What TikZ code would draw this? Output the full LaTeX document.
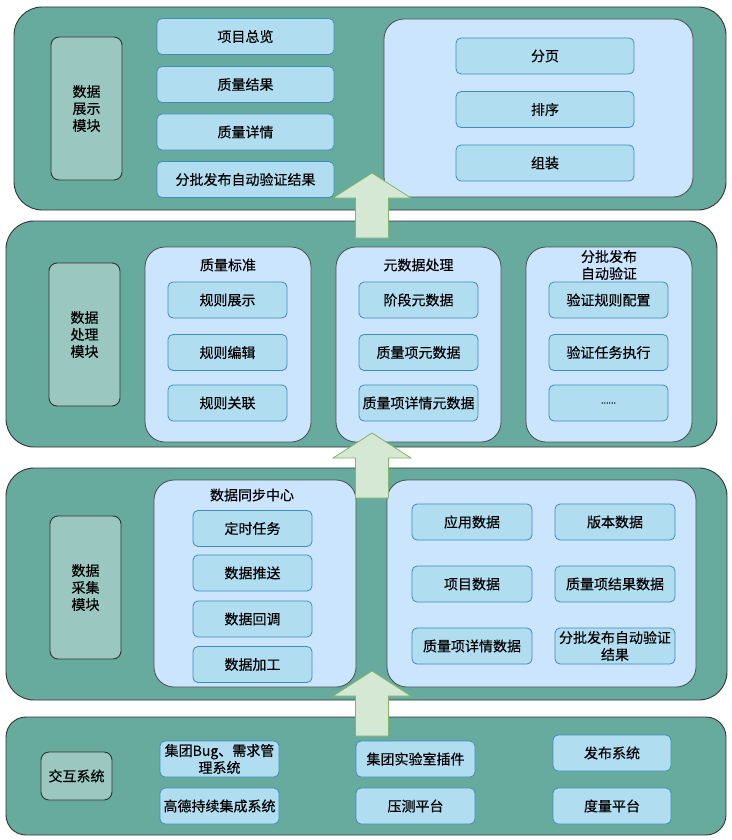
\documentclass[tikz,border=0pt]{standalone}
\usepackage{fontspec}
\setmainfont[FakeBold=0.3]{Noto Sans CJK SC}
\usepackage{xcolor}
\usepackage{tikz}

\definecolor{layerfill}{HTML}{67AB9F}
\definecolor{modfill}{HTML}{9AC7BF}
\definecolor{panelfill}{HTML}{CCE5FF}
\definecolor{itemfill}{HTML}{B1DDF0}
\definecolor{itemline}{HTML}{3C8DBC}
\definecolor{arrowfill}{HTML}{D5E8D4}
\definecolor{arrowline}{HTML}{82B366}

\tikzset{
  txt/.style={font=\fontsize{14}{17}\selectfont, align=center, inner sep=0pt},
  layer/.style={draw=black!80, fill=layerfill, line width=0.9pt, rounded corners=28pt, inner sep=0pt},
  modbox/.style={txt, draw=black!80, fill=modfill, line width=0.9pt, rounded corners=8pt, minimum width=71pt},
  panel/.style={draw=black!70, fill=panelfill, line width=0.8pt, rounded corners=20pt, inner sep=0pt},
  item/.style={txt, draw=itemline, fill=itemfill, line width=0.8pt, rounded corners=5pt, minimum height=36pt},
  bigarrow/.style={draw=arrowline, fill=arrowfill, line width=0.8pt, line join=miter}
}

\begin{document}
\begin{tikzpicture}[x=1pt,y=-1pt]
\useasboundingbox (0,0) rectangle (731,840);

%% layers (bottom to top on the page)
\node[layer, minimum width=712pt, minimum height=203pt] (lay1) at (370,108.5) {};
\node[layer, minimum width=711pt, minimum height=226pt] (lay2) at (361.5,334) {};
\node[layer, minimum width=721pt, minimum height=232pt] (lay3) at (366.5,584) {};
\node[layer, minimum width=720pt, minimum height=118pt, rounded corners=20pt] (lay4) at (366,776) {};

%%%%%%%% 数据展示 %%%%%%%%
\node[modbox, minimum height=143pt] (mod1) at (86.5,108.5) {数据\\展示\\模块};
\node[item, minimum width=177pt] (show1) at (245.5,36.5) {项目总览};
\node[item, minimum width=177pt] (show2) at (245.5,84.5) {质量结果};
\node[item, minimum width=177pt] (show3) at (245.5,132) {质量详情};
\node[item, minimum width=177pt] (show4) at (245.5,179.5) {分批发布自动验证结果};
\node[panel, minimum width=309pt, minimum height=178pt] (pshow) at (538.5,108) {};
\node[item, minimum width=178pt] (page) at (545,56) {分页};
\node[item, minimum width=178pt] (sort) at (545,109.5) {排序};
\node[item, minimum width=178pt] (pack) at (545,163) {组装};

%%%%%%%% 数据处理 %%%%%%%%
\node[modbox, minimum height=143pt] (mod2) at (84.5,334.5) {数据\\处理\\模块};
\node[panel, minimum width=166pt, minimum height=195pt] (pstd) at (228,344.5) {};
\node[panel, minimum width=165pt, minimum height=195pt] (pmeta) at (418.5,344.5) {};
\node[panel, minimum width=166pt, minimum height=195pt] (pauto) at (609,344.5) {};
\node[txt] (tstd) at (228,265) {质量标准};
\node[txt] (tmeta) at (418.5,265) {元数据处理};
\node[txt] (tauto) at (609,265) {分批发布\\自动验证};
\node[item, minimum width=119pt] (rule1) at (227.5,300) {规则展示};
\node[item, minimum width=119pt] (rule2) at (227.5,352.5) {规则编辑};
\node[item, minimum width=119pt] (rule3) at (227.5,403) {规则关联};
\node[item, minimum width=119pt] (meta1) at (418.5,300) {阶段元数据};
\node[item, minimum width=119pt] (meta2) at (418.5,352.5) {质量项元数据};
\node[item, minimum width=119pt] (meta3) at (418.5,403) {质量项详情元数据};
\node[item, minimum width=119pt] (auto1) at (608.5,300) {验证规则配置};
\node[item, minimum width=119pt] (auto2) at (608.5,352.5) {验证任务执行};
\node[item, minimum width=119pt] (auto3) at (608.5,403) {\fontsize{9}{10}\selectfont ......};

%%%%%%%% 数据采集 %%%%%%%%
\node[modbox, minimum height=143pt] (mod3) at (85.5,587.5) {数据\\采集\\模块};
\node[panel, minimum width=202pt, minimum height=207pt] (psync) at (255,583.5) {};
\node[txt] (tsync) at (252,495) {数据同步中心};
\node[item, minimum width=119pt] (sync1) at (252.5,528.5) {定时任务};
\node[item, minimum width=119pt] (sync2) at (252.5,573) {数据推送};
\node[item, minimum width=119pt] (sync3) at (252.5,619) {数据回调};
\node[item, minimum width=119pt] (sync4) at (252.5,664.5) {数据加工};
\node[panel, minimum width=309pt, minimum height=207pt] (pdata) at (541.5,583.5) {};
\node[item, minimum width=120pt] (data1) at (472,522) {应用数据};
\node[item, minimum width=120pt] (data2) at (615,522) {版本数据};
\node[item, minimum width=120pt] (data3) at (472,584) {项目数据};
\node[item, minimum width=120pt] (data4) at (615,584) {质量项结果数据};
\node[item, minimum width=120pt] (data5) at (472,646) {质量项详情数据};
\node[item, minimum width=120pt] (data6) at (615,646) {分批发布自动验证\\结果};

%%%%%%%% 交互系统 %%%%%%%%
\node[modbox, minimum height=48pt] (mod4) at (76.5,776) {交互系统};
\node[item, minimum width=119pt] (sys1) at (219.5,759) {集团Bug、需求管\\理系统};
\node[item, minimum width=119pt] (sys2) at (219.5,806) {高德持续集成系统};
\node[item, minimum width=119pt] (sys3) at (415.5,759) {集团实验室插件};
\node[item, minimum width=119pt] (sys4) at (415.5,806) {压测平台};
\node[item, minimum width=118pt] (sys5) at (612,753) {发布系统};
\node[item, minimum width=118pt] (sys6) at (612,806) {度量平台};

%% fat arrows between the layers
\foreach \tipy in {173,433,671}{
\draw[bigarrow] (372,\tipy) -- (411,\tipy+25) -- (388.5,\tipy+25) -- (388.5,\tipy+65)
  -- (355.5,\tipy+65) -- (355.5,\tipy+25) -- (333,\tipy+25) -- cycle;
}
\end{tikzpicture}
\end{document}
